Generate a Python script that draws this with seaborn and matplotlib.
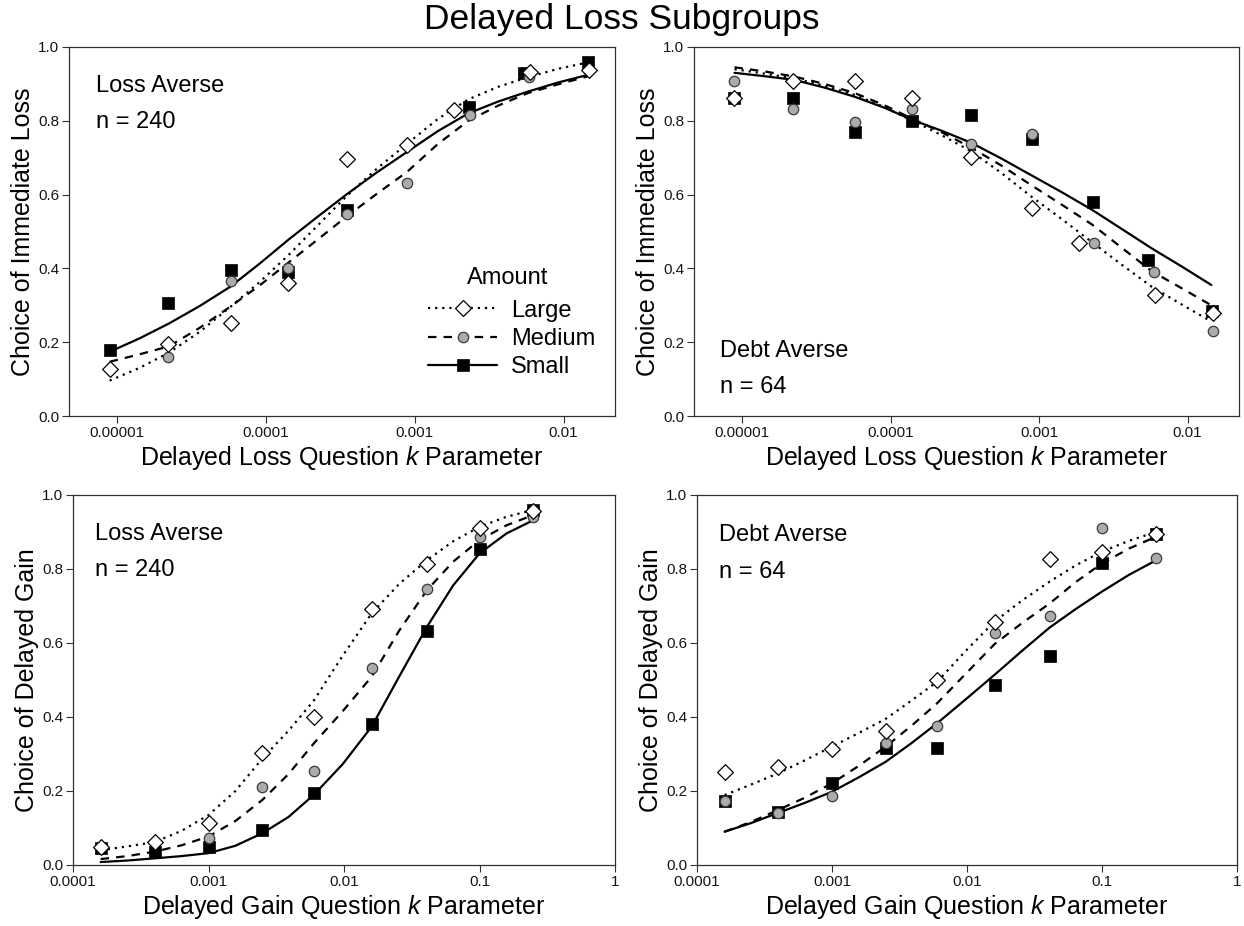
import numpy as np
import pandas as pd
import matplotlib
matplotlib.use("Agg")
import matplotlib.pyplot as plt
from matplotlib.lines import Line2D
from matplotlib.ticker import FixedLocator, NullLocator
import seaborn as sns

# ---------------- data ----------------
amounts = ["Large", "Medium", "Small"]

# delayed-loss question k values (x) per amount
loss_k_large = [8.9e-6, 2.2e-5, 5.8e-5, 1.4e-4, 3.5e-4, 8.9e-4, 1.85e-3, 6.0e-3, 0.0149]
loss_k_medium = [8.9e-6, 2.2e-5, 5.8e-5, 1.4e-4, 3.5e-4, 8.9e-4, 2.35e-3, 5.9e-3, 0.0148]
loss_k_small = [8.9e-6, 2.2e-5, 5.8e-5, 1.4e-4, 3.5e-4, 8.9e-4, 2.3e-3, 5.45e-3, 0.0145]
# k positions at which the fitted curves were read
loss_curve_k = [8.91e-6, 1.41e-5, 2.24e-5, 3.59e-5, 5.75e-5, 9.02e-5, 1.41e-4, 2.21e-4,
                3.47e-4, 5.56e-4, 8.91e-4, 1.43e-3, 2.29e-3, 3.63e-3, 5.75e-3, 9.23e-3, 0.01445]

# delayed-gain question k values (x)
gain_k = [0.00016, 0.0004, 0.001, 0.0025, 0.006, 0.016, 0.041, 0.1, 0.25]
gain_curve_k = [0.00016, 0.00025, 0.0004, 0.00063, 0.001, 0.00158, 0.0025, 0.0039, 0.006,
                0.0098, 0.016, 0.0256, 0.041, 0.064, 0.1, 0.158, 0.25]

# Top-left: Loss Averse, delayed loss
tl_large = [0.127, 0.195, 0.253, 0.361, 0.696, 0.734, 0.829, 0.933, 0.938]
tl_medium = [np.nan, 0.161, 0.367, 0.402, 0.547, 0.632, 0.817, 0.918, np.nan]
tl_small = [0.179, 0.305, 0.397, 0.391, 0.558, np.nan, 0.838, 0.930, 0.960]
tl_fit_large = [0.096, 0.130, 0.172, 0.228, 0.295, 0.362, 0.435, 0.515, 0.595, 0.670,
                0.738, 0.805, 0.858, 0.892, 0.918, 0.941, 0.958]
tl_fit_medium = [0.147, 0.167, 0.189, 0.239, 0.296, 0.353, 0.415, 0.477, 0.540, 0.602,
                 0.662, 0.737, 0.800, 0.841, 0.875, 0.899, 0.920]
tl_fit_small = [0.174, 0.210, 0.251, 0.298, 0.350, 0.412, 0.477, 0.539, 0.600, 0.660,
                0.716, 0.772, 0.820, 0.852, 0.879, 0.904, 0.924]

# Top-right: Debt Averse, delayed loss
tr_large = [0.861, 0.909, 0.909, 0.861, 0.703, 0.565, 0.470, 0.328, 0.280]
tr_medium = [0.909, 0.831, 0.798, 0.831, 0.736, 0.765, 0.470, 0.391, 0.231]
tr_small = [0.861, 0.863, 0.770, 0.800, 0.816, 0.750, 0.581, 0.423, 0.285]
tr_fit_large = [0.940, 0.928, 0.915, 0.895, 0.870, 0.838, 0.800, 0.761, 0.718, 0.659,
                0.594, 0.533, 0.470, 0.409, 0.350, 0.301, 0.256]
tr_fit_medium = [0.945, 0.934, 0.920, 0.900, 0.875, 0.843, 0.805, 0.769, 0.728, 0.679,
                 0.625, 0.572, 0.518, 0.455, 0.392, 0.345, 0.300]
tr_fit_small = [0.930, 0.921, 0.911, 0.890, 0.865, 0.836, 0.802, 0.773, 0.741, 0.698,
                0.652, 0.606, 0.558, 0.506, 0.454, 0.404, 0.355]

# Bottom-left: Loss Averse, delayed gain
bl_large = [0.049, 0.061, 0.114, 0.302, 0.399, 0.691, 0.814, 0.910, 0.958]
bl_medium = [np.nan, np.nan, 0.072, 0.212, 0.254, 0.532, 0.745, 0.887, 0.940]
bl_small = [0.045, 0.036, 0.049, 0.095, 0.194, 0.380, 0.632, 0.853, 0.960]
bl_fit_large = [0.040, 0.050, 0.062, 0.092, 0.135, 0.200, 0.288, 0.363, 0.445, 0.566,
                0.680, 0.760, 0.824, 0.875, 0.914, 0.941, 0.960]
bl_fit_medium = [0.016, 0.024, 0.036, 0.053, 0.077, 0.119, 0.176, 0.246, 0.329, 0.416,
                 0.509, 0.634, 0.743, 0.820, 0.878, 0.918, 0.946]
bl_fit_small = [0.008, 0.012, 0.018, 0.024, 0.032, 0.052, 0.086, 0.130, 0.190, 0.273,
                0.374, 0.510, 0.644, 0.756, 0.842, 0.896, 0.932]

# Bottom-right: Debt Averse, delayed gain
br_large = [0.252, 0.266, 0.313, 0.363, 0.500, 0.658, 0.827, 0.845, 0.894]
br_medium = [0.174, 0.141, 0.186, 0.331, 0.376, 0.626, 0.673, 0.910, 0.829]
br_small = [0.174, 0.144, 0.221, 0.315, 0.315, 0.486, 0.566, 0.815, 0.894]
br_fit_large = [0.189, 0.217, 0.248, 0.283, 0.320, 0.357, 0.395, 0.445, 0.495, 0.579,
                0.658, 0.715, 0.766, 0.810, 0.847, 0.876, 0.900]
br_fit_medium = [0.090, 0.116, 0.149, 0.182, 0.221, 0.268, 0.320, 0.377, 0.437, 0.517,
                 0.597, 0.654, 0.707, 0.765, 0.815, 0.855, 0.887]
br_fit_small = [0.090, 0.113, 0.141, 0.168, 0.198, 0.237, 0.279, 0.330, 0.383, 0.448,
                0.514, 0.579, 0.642, 0.692, 0.739, 0.784, 0.823]

loss_ticks = [0.00001, 0.0001, 0.001, 0.01]
loss_ticklabels = ["0.00001", "0.0001", "0.001", "0.01"]
gain_ticks = [0.0001, 0.001, 0.01, 0.1, 1]
gain_ticklabels = ["0.0001", "0.001", "0.01", "0.1", "1"]
y_ticks = [0.0, 0.2, 0.4, 0.6, 0.8, 1.0]
y_ticklabels = ["0.0", "0.2", "0.4", "0.6", "0.8", "1.0"]

panel_labels = [("Loss Averse", "n = 240"), ("Debt Averse", "n = 64"),
                ("Loss Averse", "n = 240"), ("Debt Averse", "n = 64")]

# ---------------- style ----------------
sns.set_theme(style="ticks")
plt.rcParams["font.family"] = ["Liberation Sans", "DejaVu Sans"]
plt.rcParams["mathtext.fontset"] = "custom"
plt.rcParams["mathtext.rm"] = "Liberation Sans"
plt.rcParams["mathtext.it"] = "Liberation Sans:italic"
plt.rcParams["text.color"] = "black"
plt.rcParams["axes.labelcolor"] = "black"

W, H = 1244, 926
fig = plt.figure(figsize=(W / 100, H / 100), dpi=100)

def px_axes(left, right, top, bottom):
    return fig.add_axes([left / W, 1 - bottom / H, (right - left) / W, (bottom - top) / H])

ax_tl = px_axes(69, 615, 47, 416)
ax_tr = px_axes(694, 1239, 47, 416)
ax_bl = px_axes(73, 615, 495, 865)
ax_br = px_axes(697, 1237, 495, 865)

LW = 1.6
line_styles = {
    "Large": (0, (1, 2.2)),
    "Medium": (0, (3.8, 3.2)),
    "Small": "-",
}
marker_kw = {
    "Large": dict(marker="D", s=64, color="white", edgecolor="black", linewidth=0.9),
    "Medium": dict(marker="o", s=56, color="#ababab", edgecolor="#3a3a3a", linewidth=0.9),
    "Small": dict(marker="s", s=72, color="black", edgecolor="black", linewidth=0.5),
}

def draw_panel(ax, xs, ys, curve_x, fits, xlim, ticks, ticklabels, xlabel, ylabel, labels, label_pos):
    for amt in ["Small", "Medium", "Large"]:
        sns.lineplot(x=curve_x, y=fits[amt], ax=ax, color="black", linewidth=LW,
                     linestyle=line_styles[amt], sort=False, estimator=None,
                     legend=False, zorder=2)
    for i, amt in enumerate(["Small", "Medium", "Large"]):
        df = pd.DataFrame({"k": xs[amt], "p": ys[amt]}).dropna()
        sns.scatterplot(data=df, x="k", y="p", ax=ax, legend=False, zorder=3 + i,
                        **marker_kw[amt])
    ax.set_xscale("log")
    ax.set_xlim(*xlim)
    ax.set_ylim(0, 1)
    ax.xaxis.set_major_locator(FixedLocator(ticks))
    ax.xaxis.set_minor_locator(NullLocator())
    ax.set_xticks(ticks)
    ax.set_xticklabels(ticklabels)
    ax.set_yticks(y_ticks)
    ax.set_yticklabels(y_ticklabels)
    ax.tick_params(axis="both", direction="out", length=5, width=0.8,
                   labelsize=11, colors="#303030", pad=2)
    ax.tick_params(axis="both", labelcolor="#14141e")
    for sp in ax.spines.values():
        sp.set_visible(True)
        sp.set_linewidth(0.9)
        sp.set_color("#303030")
    ax.set_xlabel(xlabel, fontsize=18, labelpad=3, color="black")
    ax.set_ylabel(ylabel, fontsize=18, labelpad=2, color="black")
    ax.text(label_pos[0], label_pos[1], labels[0], transform=ax.transAxes,
            fontsize=17, ha="left", va="center", color="black")
    ax.text(label_pos[0], label_pos[1] - 0.098, labels[1], transform=ax.transAxes,
            fontsize=17, ha="left", va="center", color="black")

loss_xlim = (10 ** -5.323, 10 ** -1.654)
gain_xlim = (0.0001, 1)
loss_xlabel = "Delayed Loss Question $k$ Parameter"
gain_xlabel = "Delayed Gain Question $k$ Parameter"

loss_xs = {"Large": loss_k_large, "Medium": loss_k_medium, "Small": loss_k_small}
gain_xs = {"Large": gain_k, "Medium": gain_k, "Small": gain_k}

draw_panel(ax_tl, loss_xs, {"Large": tl_large, "Medium": tl_medium, "Small": tl_small},
           loss_curve_k, {"Large": tl_fit_large, "Medium": tl_fit_medium, "Small": tl_fit_small},
           loss_xlim, loss_ticks, loss_ticklabels, loss_xlabel, "Choice of Immediate Loss",
           panel_labels[0], (0.049, 0.894))
draw_panel(ax_tr, loss_xs, {"Large": tr_large, "Medium": tr_medium, "Small": tr_small},
           loss_curve_k, {"Large": tr_fit_large, "Medium": tr_fit_medium, "Small": tr_fit_small},
           loss_xlim, loss_ticks, loss_ticklabels, loss_xlabel, "Choice of Immediate Loss",
           panel_labels[1], (0.047, 0.176))
draw_panel(ax_bl, gain_xs, {"Large": bl_large, "Medium": bl_medium, "Small": bl_small},
           gain_curve_k, {"Large": bl_fit_large, "Medium": bl_fit_medium, "Small": bl_fit_small},
           gain_xlim, gain_ticks, gain_ticklabels, gain_xlabel, "Choice of Delayed Gain",
           panel_labels[2], (0.040, 0.894))
draw_panel(ax_br, gain_xs, {"Large": br_large, "Medium": br_medium, "Small": br_small},
           gain_curve_k, {"Large": br_fit_large, "Medium": br_fit_medium, "Small": br_fit_small},
           gain_xlim, gain_ticks, gain_ticklabels, gain_xlabel, "Choice of Delayed Gain",
           panel_labels[3], (0.040, 0.891))

# legend in top-left panel
handles = []
for amt in amounts:
    mk = marker_kw[amt]
    handles.append(Line2D([], [], color="black", linewidth=LW, linestyle=line_styles[amt],
                          marker=mk["marker"], markersize=np.sqrt(mk["s"]),
                          markerfacecolor=mk["color"], markeredgecolor=mk["edgecolor"],
                          markeredgewidth=mk["linewidth"]))
leg = ax_tl.legend(handles, amounts, loc="center",
                   bbox_to_anchor=(0.811, 0.2087), frameon=False, fontsize=17,
                   handlelength=2.9, handletextpad=0.6,
                   labelspacing=0.27, borderpad=0, borderaxespad=0)
for t in leg.get_texts():
    t.set_color("black")
ax_tl.text(0.804, 0.374, "Amount", transform=ax_tl.transAxes, fontsize=17,
           ha="center", va="center", color="black")

fig.suptitle("Delayed Loss Subgroups", fontsize=25.5, y=1 - 20 / H, va="center",
             color="black")

fig.savefig("out.png", dpi=100)
